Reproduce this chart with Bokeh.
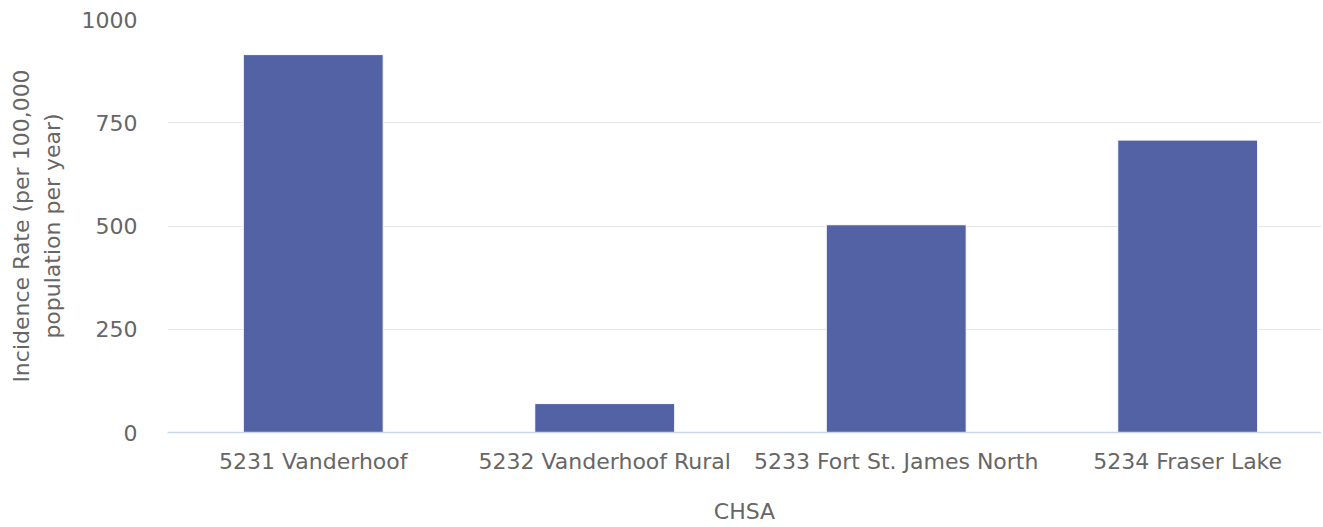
from bokeh.plotting import figure
from bokeh.models import Range1d, FixedTicker, ColumnDataSource
from bokeh.embed import file_html
from bokeh.resources import INLINE

categories = ["5231 Vanderhoof", "5232 Vanderhoof Rural", "5233 Fort St. James North", "5234 Fraser Lake"]
rates = [915, 70, 503, 708]
y_ticks = [0, 250, 500, 750, 1000]

xpos = list(range(len(categories)))
src = ColumnDataSource(dict(x=xpos, cat=categories, rate=rates))

FONT = "DejaVu Sans"
GREY = "#666666"
FS = "22px"

p = figure(width=1321, height=526, x_range=Range1d(-0.5, 3.459), y_range=Range1d(0, 1000),
           output_backend="svg", toolbar_location=None,
           min_border_left=167, min_border_right=0, min_border_top=19, min_border_bottom=94)
p.outline_line_color = None
p.vbar(x="x", top="rate", width=0.48, source=src, fill_color="#5262A5", line_color="white", line_width=1)

p.yaxis.ticker = FixedTicker(ticks=y_ticks)
p.yaxis.axis_line_color = None
p.yaxis.major_tick_line_color = None
p.yaxis.minor_tick_line_color = None
p.yaxis.major_label_standoff = 24
p.yaxis.axis_label = "Incidence Rate (per 100,000\npopulation per year)"
p.yaxis.axis_label_standoff = 14
p.yaxis.axis_label_text_line_height = 1.22

p.xaxis.ticker = FixedTicker(ticks=xpos)
p.xaxis.major_label_overrides = {i: c for i, c in zip(xpos, categories)}
p.xaxis.axis_line_color = "#ccd6eb"
p.xaxis.axis_line_width = 1.5
p.xaxis.major_tick_line_color = None
p.xaxis.minor_tick_line_color = None
p.xaxis.major_label_standoff = 10
p.xaxis.axis_label = "CHSA"
p.xaxis.axis_label_standoff = 22

for ax in (p.xaxis, p.yaxis):
    ax.major_label_text_font = FONT
    ax.major_label_text_font_size = FS
    ax.major_label_text_color = GREY
    ax.axis_label_text_font = FONT
    ax.axis_label_text_font_size = FS
    ax.axis_label_text_font_style = "normal"
    ax.axis_label_text_color = GREY

p.xgrid.grid_line_color = None
p.ygrid.grid_line_color = "#e6e6e6"
p.ygrid.grid_line_width = 1

open("out.html", "w").write(file_html(p, INLINE))
